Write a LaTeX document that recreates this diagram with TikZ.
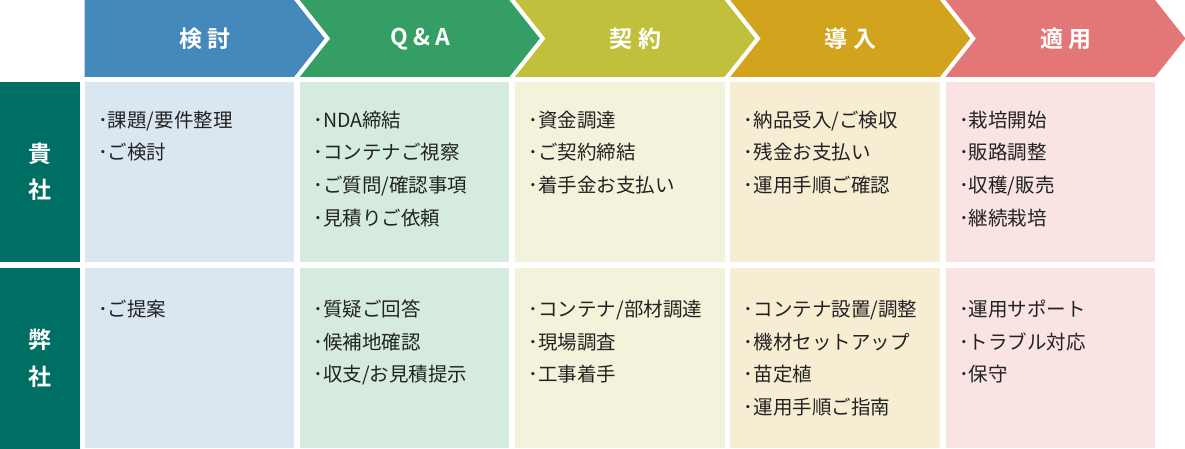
\documentclass[tikz,border=0pt]{standalone}
\usepackage{fontspec}
\newfontfamily\jp[BoldFont={Noto Sans CJK JP Bold}]{Noto Sans CJK JP}
\definecolor{hA}{HTML}{4589BC}
\definecolor{hB}{HTML}{349E64}
\definecolor{hC}{HTML}{C0C03C}
\definecolor{hD}{HTML}{D2A31D}
\definecolor{hE}{HTML}{E37777}
\definecolor{cA}{HTML}{DBE7F0}
\definecolor{cB}{HTML}{D5EBDF}
\definecolor{cC}{HTML}{F3F2DA}
\definecolor{cD}{HTML}{F6EDD3}
\definecolor{cE}{HTML}{F9E3E3}
\definecolor{teal}{HTML}{006F63}
\definecolor{txt}{HTML}{222222}
\tikzset{
  item/.style={anchor=base west, inner sep=0pt, text=txt, font=\jp\fontsize{19.5}{19.5}\selectfont},
  head/.style={inner sep=0pt, text=white, font=\jp\bfseries\fontsize{23}{23}\selectfont},
}
\newcommand\cellitems[4]{% #1 col, #2 row, #3 first baseline, #4 list
  \foreach \t [count=\k] in {#4} {
    \node[item] (t-#1-#2-\k) at ({84.5+215.25*(#1-1)+13.5}, {#3+32.5*(\k-1)}) {･\t};
  }}
\begin{document}
\begin{tikzpicture}[x=1pt,y=-1pt]
\useasboundingbox (0,0) rectangle (1185,449);
\fill[white] (0,0) rectangle (1185,449);
% header chevrons
\foreach \i/\c/\lab in {1/hA/{検\hspace{6pt}討},2/hB/{Q\hspace{6pt}\&\hspace{5pt}A},3/hC/{契\hspace{6pt}約},4/hD/{導\hspace{6pt}入},5/hE/{適\hspace{6pt}用}} {
  \pgfmathsetmacro\L{84.5+215.25*(\i-1)}
  \pgfmathsetmacro\R{\L+209.5}
  \ifnum\i=1
    \fill[\c] (\L,0) -- (\R,0) -- (\R+30.5,38.5) -- (\R,77) -- (\L,77) -- cycle;
  \else
    \fill[\c] (\L,0) -- (\R,0) -- (\R+30.5,38.5) -- (\R,77) -- (\L,77) -- (\L+30.5,38.5) -- cycle;
  \fi
  \node[head] (h\i) at (\L+120.5,39) {\lab};
  \fill[c\ifcase\i\or A\or B\or C\or D\or E\fi] (\L,82) rectangle (\R,262);
  \fill[c\ifcase\i\or A\or B\or C\or D\or E\fi] (\L,267.5) rectangle (\R,448);
}
% left column
\fill[teal] (0,82) rectangle (80,262);
\fill[teal] (0,267.5) rectangle (80,449);
\node[head] (k1) at (40,154) {貴};
\node[head] (k2) at (40,190) {社};
\node[head] (w1) at (40,340) {弊};
\node[head] (w2) at (40,377) {社};
% row 1
\cellitems{1}{1}{127.5}{課題/要件整理,ご検討}
\cellitems{2}{1}{127.5}{NDA締結,コンテナご視察,ご質問/確認事項,見積りご依頼}
\cellitems{3}{1}{127.5}{資金調達,ご契約締結,着手金お支払い}
\cellitems{4}{1}{127.5}{納品受入/ご検収,残金お支払い,運用手順ご確認}
\cellitems{5}{1}{127.5}{栽培開始,販路調整,収穫/販売,継続栽培}
% row 2
\cellitems{1}{2}{316.5}{ご提案}
\cellitems{2}{2}{316.5}{質疑ご回答,候補地確認,収支/お見積提示}
\cellitems{3}{2}{316.5}{コンテナ/部材調達,現場調査,工事着手}
\cellitems{4}{2}{316.5}{コンテナ設置/調整,機材セットアップ,苗定植,運用手順ご指南}
\cellitems{5}{2}{316.5}{運用サポート,トラブル対応,保守}
\end{tikzpicture}
\end{document}
